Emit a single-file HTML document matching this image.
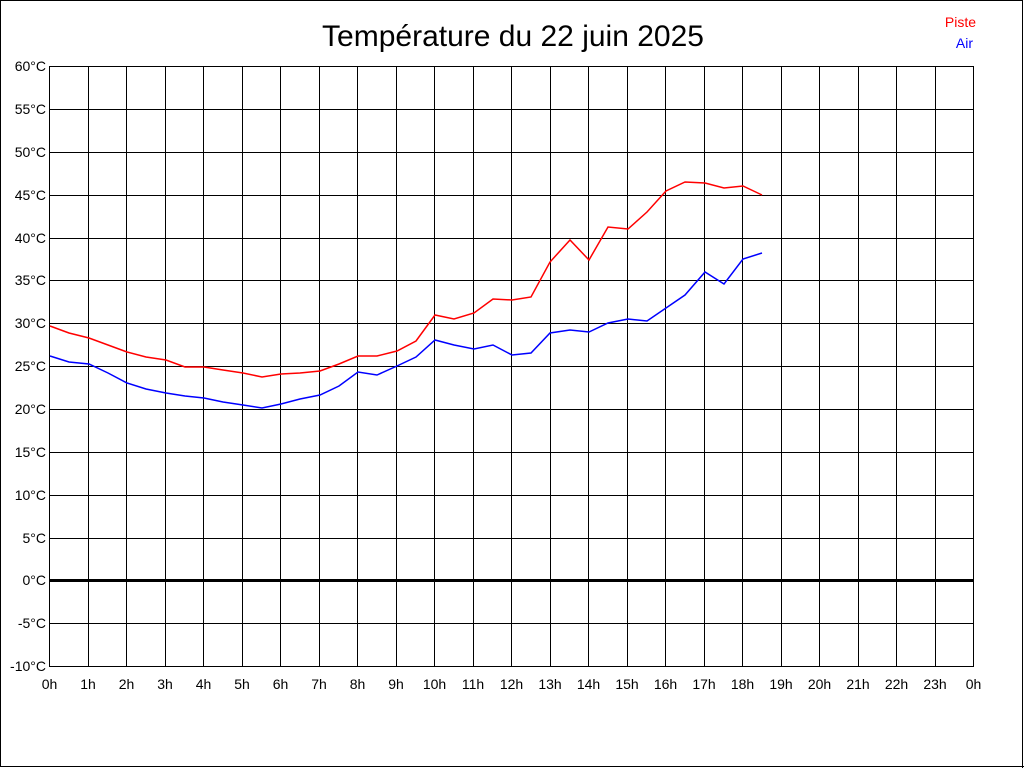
<!DOCTYPE html>
<html><head><meta charset="utf-8"><style>
html,body{margin:0;padding:0;background:#fff;}
svg{display:block;}
text{font-family:"Liberation Sans",Arial,sans-serif;}
</style></head><body>
<svg width="1024" height="768" viewBox="0 0 1024 768" xmlns="http://www.w3.org/2000/svg">
<g shape-rendering="crispEdges">
<rect x="0.5" y="0.5" width="1022" height="766" fill="#fff" stroke="#000" stroke-width="1"/>
<line x1="1022.5" y1="0" x2="1022.5" y2="768" stroke="#000"/>
<line x1="0" y1="766.5" x2="1024" y2="766.5" stroke="#000"/>
</g>
<text x="513" y="46" font-size="30" text-anchor="middle">Température du 22 juin 2025</text>
<text x="976" y="27" font-size="14" text-anchor="end" fill="#f00">Piste</text>
<text x="973" y="48" font-size="14" text-anchor="end" fill="#00f">Air</text>
<g stroke="#000" stroke-width="1" shape-rendering="crispEdges">
<rect x="49.5" y="66.5" width="924" height="600" fill="none"/>
<path d="M88.5,66.5V666.5M126.5,66.5V666.5M165.5,66.5V666.5M203.5,66.5V666.5M242.5,66.5V666.5M280.5,66.5V666.5M319.5,66.5V666.5M357.5,66.5V666.5M396.5,66.5V666.5M434.5,66.5V666.5M473.5,66.5V666.5M511.5,66.5V666.5M550.5,66.5V666.5M588.5,66.5V666.5M627.5,66.5V666.5M665.5,66.5V666.5M704.5,66.5V666.5M742.5,66.5V666.5M781.5,66.5V666.5M819.5,66.5V666.5M858.5,66.5V666.5M896.5,66.5V666.5M935.5,66.5V666.5" fill="none"/>
<path d="M49.5,109.5H973.5M49.5,152.5H973.5M49.5,195.5H973.5M49.5,238.5H973.5M49.5,280.5H973.5M49.5,323.5H973.5M49.5,366.5H973.5M49.5,409.5H973.5M49.5,452.5H973.5M49.5,495.5H973.5M49.5,538.5H973.5M49.5,623.5H973.5" fill="none"/>
</g>
<line x1="49.5" y1="580.5" x2="973.5" y2="580.5" stroke="#000" stroke-width="3" shape-rendering="crispEdges"/>
<g font-size="14" text-anchor="end">
<text x="46" y="71">60°C</text><text x="46" y="114">55°C</text><text x="46" y="157">50°C</text><text x="46" y="200">45°C</text><text x="46" y="243">40°C</text><text x="46" y="285">35°C</text><text x="46" y="328">30°C</text><text x="46" y="371">25°C</text><text x="46" y="414">20°C</text><text x="46" y="457">15°C</text><text x="46" y="500">10°C</text><text x="46" y="543">5°C</text><text x="46" y="585">0°C</text><text x="46" y="628">-5°C</text><text x="46" y="671">-10°C</text>
</g>
<g font-size="14" text-anchor="middle">
<text x="49.5" y="689">0h</text><text x="88" y="689">1h</text><text x="126.5" y="689">2h</text><text x="165" y="689">3h</text><text x="203.5" y="689">4h</text><text x="242" y="689">5h</text><text x="280.5" y="689">6h</text><text x="319" y="689">7h</text><text x="357.5" y="689">8h</text><text x="396" y="689">9h</text><text x="434.5" y="689">10h</text><text x="473" y="689">11h</text><text x="511.5" y="689">12h</text><text x="550" y="689">13h</text><text x="588.5" y="689">14h</text><text x="627" y="689">15h</text><text x="665.5" y="689">16h</text><text x="704" y="689">17h</text><text x="742.5" y="689">18h</text><text x="781" y="689">19h</text><text x="819.5" y="689">20h</text><text x="858" y="689">21h</text><text x="896.5" y="689">22h</text><text x="935" y="689">23h</text><text x="973.5" y="689">0h</text>
</g>
<polyline fill="none" stroke="#f00" stroke-width="1.5" points="50,326 69,333 89,338 108,345 127,352 146,357 166,360 185,367 204,367 223,370 243,373 262,377 281,374 300,373 320,371 339,364 358,356 377,356 397,351 416,341 435,315 454,319 474,313 493,299 512,300 531,297 550,262 570,240 589,260 608,227 628,229 647,212 666,191 685,182 705,183 724,188 743,186 762,195"/>
<polyline fill="none" stroke="#00f" stroke-width="1.5" points="50,356 69,362 89,364 108,373 127,383 146,389 166,393 185,396 204,398 223,402 243,405 262,408 281,404 300,399 320,395 339,386 358,372 377,375 397,366 416,357 435,340 454,345 474,349 493,345 512,355 531,353 550,333 570,330 589,332 608,323 628,319 647,321 666,308 685,295 705,272 724,284 743,259 762,253"/>
</svg>
</body></html>
